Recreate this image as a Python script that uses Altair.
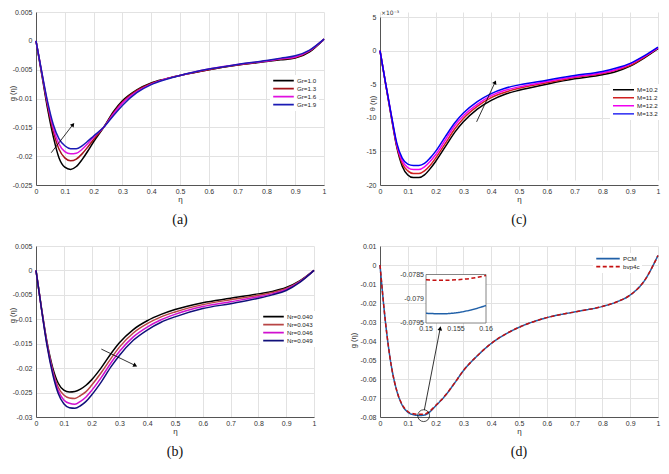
import math
import altair as alt
import pandas as pd

# ---------------- data ----------------
eta = [0, 0.02, 0.04, 0.06, 0.08, 0.10, 0.12, 0.14, 0.16, 0.18, 0.20, 0.235,
       0.27, 0.30, 0.35, 0.40, 0.45, 0.50, 0.60, 0.70, 0.80, 0.85, 0.90, 0.95, 1.0]
x_ticks = [0, 0.1, 0.2, 0.3, 0.4, 0.5, 0.6, 0.7, 0.8, 0.9, 1]

# (a) Gr
a_labels = ["Gr=1.0", "Gr=1.3", "Gr=1.6", "Gr=1.9"]
a_gr10 = [0, -0.0058, -0.0117, -0.0166, -0.0203, -0.0219, -0.0223, -0.0218, -0.0206, -0.0191, -0.0175, -0.0150,
          -0.0122, -0.0104, -0.0085, -0.0073, -0.0066, -0.0060, -0.0050, -0.0042, -0.0036, -0.0033, -0.0030, -0.0019, 0.0003]
a_gr13 = [0, -0.0056, -0.0112, -0.0157, -0.0188, -0.0203, -0.0208, -0.0205, -0.0196, -0.0184, -0.0171, -0.0150,
          -0.0124, -0.0106, -0.0086, -0.0074, -0.0066, -0.0060, -0.0050, -0.0042, -0.0035, -0.0032, -0.0029, -0.0018, 0.0003]
a_gr16 = [0, -0.0055, -0.0108, -0.0151, -0.0179, -0.0192, -0.0196, -0.0195, -0.0188, -0.0178, -0.0167, -0.0150,
          -0.0126, -0.0108, -0.0088, -0.0075, -0.0066, -0.0060, -0.0049, -0.0041, -0.0035, -0.0031, -0.0028, -0.0017, 0.0003]
a_gr19 = [0, -0.0054, -0.0105, -0.0145, -0.0170, -0.0182, -0.0187, -0.0187, -0.0182, -0.0174, -0.0165, -0.0150,
          -0.0129, -0.0112, -0.0090, -0.0076, -0.0067, -0.0060, -0.0049, -0.0041, -0.0034, -0.0030, -0.0026, -0.0016, 0.0003]
a_yticks = [-0.025, -0.02, -0.015, -0.01, -0.005, 0, 0.005]

# (c) M  (values in units of 1e-3)
c_labels = ["M=10.2", "M=11.2", "M=12.2", "M=13.2"]
c_m102 = [0, -4.9, -9.7, -14.3, -17.2, -18.5, -18.9, -18.9, -18.5, -17.6, -16.5, -14.3,
          -12.1, -10.6, -8.7, -7.4, -6.5, -5.9, -5.0, -4.2, -3.6, -3.1, -2.3, -1.1, 0.3]
c_m112 = [0, -4.9, -9.6, -14.1, -16.8, -17.9, -18.3, -18.3, -17.9, -17.1, -16.0, -13.8,
          -11.6, -10.1, -8.3, -7.0, -6.2, -5.6, -4.8, -4.0, -3.4, -2.9, -2.2, -1.0, 0.4]
c_m122 = [0, -4.8, -9.5, -13.9, -16.4, -17.4, -17.7, -17.7, -17.3, -16.5, -15.5, -13.3,
          -11.1, -9.7, -8.0, -6.7, -5.9, -5.4, -4.6, -3.9, -3.3, -2.8, -2.0, -0.9, 0.4]
c_m132 = [0, -4.8, -9.4, -13.7, -16.0, -16.9, -17.1, -17.1, -16.8, -16.0, -15.0, -12.8,
          -10.7, -9.3, -7.6, -6.4, -5.6, -5.1, -4.4, -3.7, -3.1, -2.6, -1.9, -0.8, 0.5]
c_yticks = [-20, -15, -10, -5, 0, 5]

# (b) Nr
b_labels = ["Nr=0.040", "Nr=0.043", "Nr=0.046", "Nr=0.049"]
b_nr040 = [0, -0.0078, -0.0148, -0.0199, -0.0231, -0.0245, -0.0249, -0.0248, -0.0243, -0.0235, -0.0224, -0.0199,
           -0.0170, -0.0148, -0.0121, -0.0103, -0.0090, -0.0080, -0.0066, -0.0057, -0.0048, -0.0043, -0.0035, -0.0021, 0.0]
b_nr043 = [0, -0.0079, -0.0150, -0.0204, -0.0239, -0.0255, -0.0261, -0.0262, -0.0256, -0.0248, -0.0235, -0.0209,
           -0.0180, -0.0157, -0.0128, -0.0109, -0.0095, -0.0085, -0.0070, -0.0060, -0.0051, -0.0045, -0.0037, -0.0022, 0.0]
b_nr046 = [0, -0.0080, -0.0153, -0.0208, -0.0246, -0.0265, -0.0272, -0.0274, -0.0268, -0.0259, -0.0246, -0.0219,
           -0.0189, -0.0166, -0.0136, -0.0116, -0.0101, -0.0090, -0.0074, -0.0064, -0.0054, -0.0048, -0.0039, -0.0023, 0.0]
b_nr049 = [0, -0.0080, -0.0155, -0.0212, -0.0252, -0.0273, -0.0281, -0.0282, -0.0277, -0.0268, -0.0255, -0.0228,
           -0.0197, -0.0174, -0.0143, -0.0122, -0.0106, -0.0095, -0.0078, -0.0068, -0.0057, -0.0050, -0.0041, -0.0024, 0.0]
b_yticks = [-0.03, -0.025, -0.02, -0.015, -0.01, -0.005, 0, 0.005]

# (d) PCM vs bvp4c
d_labels = ["PCM", "bvp4c"]
d_pcm = [0, -0.0305, -0.0525, -0.0660, -0.0738, -0.0775, -0.0788, -0.0792, -0.0790, -0.0772, -0.0742, -0.0687,
         -0.0618, -0.0556, -0.0478, -0.0413, -0.0365, -0.0328, -0.0277, -0.0247, -0.0218, -0.0195, -0.0158, -0.0085, 0.0050]
d_bvp = [0, -0.0305, -0.0525, -0.0660, -0.0736, -0.0771, -0.0783, -0.0786, -0.0785, -0.0768, -0.0740, -0.0686,
         -0.0618, -0.0556, -0.0478, -0.0413, -0.0365, -0.0328, -0.0277, -0.0247, -0.0218, -0.0195, -0.0158, -0.0085, 0.0050]
d_yticks = [-0.08, -0.07, -0.06, -0.05, -0.04, -0.03, -0.02, -0.01, 0, 0.01]
# inset of (d)
ins_eta = [0.150, 0.1525, 0.155, 0.1575, 0.160]
ins_pcm = [-0.07930, -0.07931, -0.07929, -0.07923, -0.07914]
ins_bvp = [-0.07861, -0.07862, -0.07861, -0.07858, -0.07852]
ins_xticks = [0.15, 0.155, 0.16]
ins_xlabels = ["0.15", "0.155", "0.16"]
ins_yticks = [-0.0795, -0.079, -0.0785]
ins_ylabels = ["-0.0795", "-0.079", "-0.0785"]

# ---------------- styling ----------------
FONT = "Liberation Sans"
GRID = "#e2e2e2"
AXC = "#555555"
LBL = "#333333"


def long_df(names, series):
    rows = []
    for n, s in zip(names, series):
        for e, v in zip(eta, s):
            rows.append({"eta": e, "val": v, "series": n})
    return pd.DataFrame(rows)


def xaxis():
    return alt.Axis(values=x_ticks, format="~g", title="η", grid=True, gridColor=GRID,
                    domainColor=AXC, labelColor=LBL, labelFont=FONT, labelFontSize=7,
                    labelPadding=2, ticks=False, labelFlush=False, labelOverlap=False,
                    titleFont=FONT, titleFontSize=8, titleFontWeight="normal", titleColor=LBL,
                    titlePadding=1)


def yaxis(vals, title, tx, ty):
    return alt.Axis(values=vals, format="~g", title=title, grid=True, gridColor=GRID,
                    domainColor=AXC, labelColor=LBL, labelFont=FONT, labelFontSize=7,
                    labelPadding=4, ticks=False, labelFlush=False, labelOverlap=False,
                    titleFont=FONT, titleFontSize=7.5, titleFontWeight="normal", titleColor=LBL,
                    titleX=tx, titleY=ty, titleBaseline="middle")


def legend(lx, ly, clip, sym):
    return alt.Legend(title=None, orient="none", legendX=lx, legendY=ly, symbolType="stroke",
                      symbolSize=sym, symbolStrokeWidth=1.6, clipHeight=clip, rowPadding=0,
                      labelFont=FONT, labelFontSize=6.2, labelColor="#222", labelOffset=2,
                      fillColor="white", padding=2)


def caption(t):
    return alt.TitleParams(text=t, orient="bottom", font="Liberation Serif", fontSize=14,
                           fontWeight="normal", color="#111", offset=10, anchor="middle")


def arrow(x0, y0, x1, y1, X, Y, xdom, ydom, w, h, color="black"):
    df = pd.DataFrame({"eta": [x0, x1], "val": [y0, y1], "o": [0, 1]})
    line = alt.Chart(df).mark_line(color=color, strokeWidth=0.8).encode(x=X, y=Y, order="o:Q")
    dx = (x1 - x0) / (xdom[1] - xdom[0]) * w
    dyd = -(y1 - y0) / (ydom[1] - ydom[0]) * h
    ang = math.degrees(math.atan2(dx, -dyd)) % 360
    head = alt.Chart(df.iloc[[1]]).mark_point(shape="triangle", filled=True, color=color, size=22,
                                              angle=ang, opacity=1).encode(x=X, y=Y)
    return [line, head]


def panel(df, names, colors, ydom, yticks, ytitle, tx, ty, w, h, leg, arr, dash=None, yrange=None,
          hplot=None, widths=None):
    xs = alt.Scale(domain=[0, 1], nice=False)
    if yrange is None:
        ys = alt.Scale(domain=ydom, nice=False)
    else:
        ys = alt.Scale(domain=ydom, nice=False, range=yrange)
    X = alt.X("eta:Q", scale=xs, axis=xaxis())
    Y = alt.Y("val:Q", scale=ys, axis=yaxis(yticks, ytitle, tx, ty))
    enc = dict(
        x=X, y=Y,
        color=alt.Color("series:N", scale=alt.Scale(domain=names, range=colors), legend=leg),
    )
    if dash is not None:
        enc["strokeDash"] = alt.StrokeDash("series:N", scale=alt.Scale(domain=names, range=dash), legend=leg)
    if widths is not None:
        enc["strokeWidth"] = alt.StrokeWidth("series:N", scale=alt.Scale(domain=names, range=widths), legend=leg)
    lines = alt.Chart(df).mark_line(strokeWidth=1.5, interpolate="monotone").encode(**enc)
    layers = [lines] + arrow(*arr, X, Y, [0, 1], ydom, w, hplot if hplot else h)
    return layers, X, Y


# ---------------- sizes ----------------
W_A, H_A = 288, 173
W_O = 278
H_B = 171
C_TOP = 5  # (c) plot box starts a little lower than (a)

# (a)
dfa = long_df(a_labels, [a_gr10, a_gr13, a_gr16, a_gr19])
la, _, _ = panel(dfa, a_labels, ["#000000", "#a3141a", "#e010e0", "#1a1ab4"], [-0.025, 0.005], a_yticks,
                 "g (η)", -24, 81, W_A, H_A, legend(234, 63, 7.2, 424),
                 (0.053, -0.0194, 0.127, -0.0146))
chart_a = alt.layer(*la).properties(width=W_A, height=H_A, title=caption("(a)"))

# (c)
dfc = long_df(c_labels, [c_m102, c_m112, c_m122, c_m132])
lc, Xc, Yc = panel(dfc, c_labels, ["#000000", "#d02020", "#f000f0", "#0000f0"], [-20, 5], c_yticks,
                   "θ (η)", -8, C_TOP + 86, W_O, H_A, legend(230, C_TOP + 67, 7.6, 441),
                   (0.3475, -10.6, 0.413, -4.8), yrange=[H_A, C_TOP], hplot=H_A - C_TOP,
                   widths=[1.5, 1.3, 2.2, 1.5])
exp_df = pd.DataFrame({"eta": [0], "val": [5], "t": ["×10⁻³"]})
exp_txt = alt.Chart(exp_df).mark_text(align="left", baseline="bottom", dx=1, dy=-1, fontSize=6,
                                      font="DejaVu Sans", color=LBL).encode(x=Xc, y=Yc, text="t:N")
chart_c = alt.layer(*lc, exp_txt).properties(width=W_O, height=H_A, title=caption("(c)"))

# (b)
dfb = long_df(b_labels, [b_nr040, b_nr043, b_nr046, b_nr049])
lb, _, _ = panel(dfb, b_labels, ["#000000", "#b84545", "#d010d0", "#10107a"], [-0.03, 0.005], b_yticks,
                 "g (η)", -24, 69, W_O, H_B, legend(224, 65, 7.3, 424),
                 (0.235, -0.0161, 0.355, -0.0194))
chart_b = alt.layer(*lb).properties(width=W_O, height=H_B, title=caption("(b)"))

# (d)
dfd = long_df(d_labels, [d_pcm, d_bvp])
dleg = legend(213, 7, 7.3, 552)
ld, Xd, Yd = panel(dfd, d_labels, ["#2060a8", "#c41010"], [-0.08, 0.01], d_yticks,
                   "g (η)", -27, 94, W_O, H_B, dleg,
                   (0.1595, -0.0763, 0.216, -0.0337), dash=[[1, 0], [4, 2.5]])
circ_df = pd.DataFrame({"eta": [0.157], "val": [-0.0793]})
circ = alt.Chart(circ_df).mark_point(shape="circle", filled=False, color="black", size=140,
                                     strokeWidth=0.7, opacity=1).encode(x=Xd, y=Yd)
main_d = alt.layer(*ld, circ)

ins_xs = alt.Scale(domain=[0.15, 0.16], range=[46, 106], nice=False)
ins_ys = alt.Scale(domain=[-0.0795, -0.0785], range=[77, 28.5], nice=False)
IX = alt.X("eta:Q", scale=ins_xs, axis=None)
IY = alt.Y("val:Q", scale=ins_ys, axis=None)
box_df = pd.DataFrame({"eta": [0.15], "eta2": [0.16], "val": [-0.0795], "val2": [-0.0785]})
ins_box = alt.Chart(box_df).mark_rect(fill="white", stroke="#666666", strokeWidth=0.8).encode(
    x=IX, x2="eta2:Q", y=IY, y2="val2:Q")
ins_rows = []
for n, s in zip(d_labels, [ins_pcm, ins_bvp]):
    for e, v in zip(ins_eta, s):
        ins_rows.append({"eta": e, "val": v, "series": n})
ins_lines = alt.Chart(pd.DataFrame(ins_rows)).mark_line(strokeWidth=1.5, interpolate="monotone").encode(
    x=IX, y=IY,
    color=alt.Color("series:N", scale=alt.Scale(domain=d_labels, range=["#2060a8", "#c41010"]), legend=dleg),
    strokeDash=alt.StrokeDash("series:N", scale=alt.Scale(domain=d_labels, range=[[1, 0], [4, 2.5]]), legend=dleg))
ins_xl = alt.Chart(pd.DataFrame({"eta": ins_xticks, "val": [-0.0795] * 3, "t": ins_xlabels})).mark_text(
    baseline="top", dy=2, fontSize=7, font=FONT, color=LBL).encode(x=IX, y=IY, text="t:N")
ins_yl = alt.Chart(pd.DataFrame({"eta": [0.15] * 3, "val": ins_yticks, "t": ins_ylabels})).mark_text(
    align="right", baseline="middle", dx=-2, fontSize=7, font=FONT, color=LBL).encode(x=IX, y=IY, text="t:N")
inset = alt.layer(ins_box, ins_lines, ins_xl, ins_yl)
chart_d = alt.layer(main_d, inset).resolve_scale(x="independent", y="independent").properties(
    width=W_O, height=H_B, title=caption("(d)"))

chart = alt.concat(chart_a, chart_c, chart_b, chart_d, columns=2,
                   spacing=alt.RowColnumber(row=61, column=56), bounds="flush").resolve_scale(
    color="independent", strokeDash="independent", strokeWidth="independent").resolve_legend(
    color="independent", strokeDash="independent", strokeWidth="independent").properties(padding=0).configure(
    locale={"number": {"decimal": ".", "thousands": ",", "grouping": [3], "currency": ["", ""], "minus": "-"}}
).configure_view(strokeWidth=0)

chart.save("out.html", embed_options={"renderer": "svg", "actions": False})
